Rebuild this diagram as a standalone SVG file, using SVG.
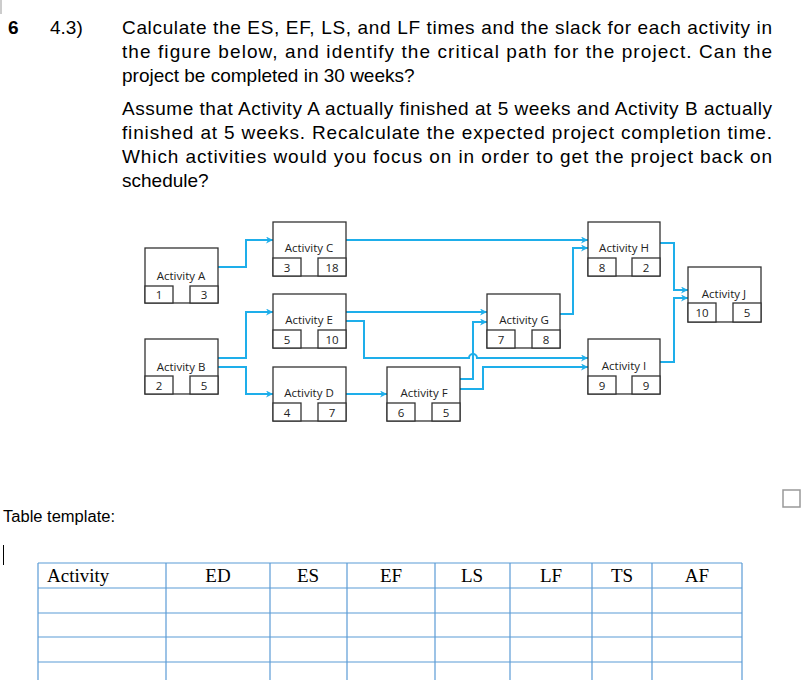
<svg xmlns="http://www.w3.org/2000/svg" width="811" height="680" viewBox="0 0 811 680">
<style>
.q{font-family:"Liberation Sans",Arial,sans-serif;font-size:19px;fill:#000}
.n rect,.n line{fill:#fff;stroke:#333;stroke-width:1.3}
.n text{font-family:"Open Sans","DejaVu Sans",sans-serif;font-size:11.5px;fill:#222}
.c path{fill:none;stroke:#1eaeea;stroke-width:2}
.t line{stroke:#5b9bd5;stroke-width:1.2}
.t text{font-family:"Liberation Serif","Times New Roman",serif;font-size:19px;fill:#000}
</style>
<defs><marker id="ar" viewBox="0 0 10 10" refX="10" refY="5" markerWidth="8" markerHeight="7" orient="auto" markerUnits="userSpaceOnUse"><path d="M0,0 L10,5 L0,10 L3,5 z" fill="#1eaeea"/></marker></defs>
<rect width="811" height="680" fill="#fff"/>
<line x1="1" y1="0" x2="1" y2="14" stroke="#999"/>
<text class="q" x="8" y="34" font-weight="bold">6</text>
<text class="q" x="50" y="34">4.3)</text>
<text class="q" x="122" y="34" textLength="650" lengthAdjust="spacing">Calculate the ES, EF, LS, and LF times and the slack for each activity in</text>
<text class="q" x="122" y="58" textLength="650" lengthAdjust="spacing">the figure below, and identify the critical path for the project. Can the</text>
<text class="q" x="122" y="82">project be completed in 30 weeks?</text>
<text class="q" x="122" y="115" textLength="650" lengthAdjust="spacing">Assume that Activity A actually finished at 5 weeks and Activity B actually</text>
<text class="q" x="122" y="139" textLength="650" lengthAdjust="spacing">finished at 5 weeks. Recalculate the expected project completion time.</text>
<text class="q" x="122" y="163" textLength="650" lengthAdjust="spacing">Which activities would you focus on in order to get the project back on</text>
<text class="q" x="122" y="187">schedule?</text>
<g class="c" id="connectors">
<path d="M218,267 H246 V240 H273" marker-end="url(#ar)"/>
<path d="M346,240 H588" marker-end="url(#ar)"/>
<path d="M218,358 H246 V312 H273" marker-end="url(#ar)"/>
<path d="M218,367 H246 V394 H273" marker-end="url(#ar)"/>
<path d="M346,312 H487" marker-end="url(#ar)"/>
<path d="M346,321 H364 V358 H469 A4,4 0 0 1 477,358 H588" marker-end="url(#ar)"/>
<path d="M346,394 H387" marker-end="url(#ar)"/>
<path d="M460,379 H473 V322 H487" marker-end="url(#ar)"/>
<path d="M460,389 H483 V367 H588" marker-end="url(#ar)"/>
<path d="M560,314 H573 V248 H588" marker-end="url(#ar)"/>
<path d="M660,243 H674 V290 H688" marker-end="url(#ar)"/>
<path d="M660,362 H674 V298 H688" marker-end="url(#ar)"/>
</g>
<g class="n" id="nodeA"><rect x="145" y="248" width="73" height="55"/><rect x="145" y="286" width="28" height="17"/><rect x="190" y="286" width="28" height="17"/><text x="181" y="280" text-anchor="middle">Activity A</text><text x="159" y="299" text-anchor="middle">1</text><text x="204" y="299" text-anchor="middle">3</text></g>
<g class="n" id="nodeB"><rect x="145" y="339" width="73" height="55"/><rect x="145" y="376" width="28" height="18"/><rect x="190" y="376" width="28" height="18"/><text x="181" y="371" text-anchor="middle">Activity B</text><text x="159" y="390" text-anchor="middle">2</text><text x="204" y="390" text-anchor="middle">5</text></g>
<g class="n" id="nodeC"><rect x="273" y="222" width="73" height="54"/><rect x="273" y="258" width="28" height="18"/><rect x="318" y="258" width="28" height="18"/><text x="309" y="252" text-anchor="middle">Activity C</text><text x="287" y="272" text-anchor="middle">3</text><text x="332" y="272" text-anchor="middle">18</text></g>
<g class="n" id="nodeE"><rect x="273" y="294" width="73" height="54"/><rect x="273" y="330" width="28" height="18"/><rect x="318" y="330" width="28" height="18"/><text x="309" y="324" text-anchor="middle">Activity E</text><text x="287" y="344" text-anchor="middle">5</text><text x="332" y="344" text-anchor="middle">10</text></g>
<g class="n" id="nodeD"><rect x="273" y="367" width="73" height="54"/><rect x="273" y="403" width="28" height="18"/><rect x="318" y="403" width="28" height="18"/><text x="309" y="397" text-anchor="middle">Activity D</text><text x="287" y="417" text-anchor="middle">4</text><text x="332" y="417" text-anchor="middle">7</text></g>
<g class="n" id="nodeF"><rect x="387" y="367" width="73" height="54"/><rect x="387" y="403" width="28" height="18"/><rect x="432" y="403" width="28" height="18"/><text x="424" y="397" text-anchor="middle">Activity F</text><text x="401" y="417" text-anchor="middle">6</text><text x="446" y="417" text-anchor="middle">5</text></g>
<g class="n" id="nodeG"><rect x="487" y="294" width="73" height="54"/><rect x="487" y="330" width="28" height="18"/><rect x="532" y="330" width="28" height="18"/><text x="524" y="324" text-anchor="middle">Activity G</text><text x="501" y="344" text-anchor="middle">7</text><text x="546" y="344" text-anchor="middle">8</text></g>
<g class="n" id="nodeH"><rect x="588" y="222" width="72" height="54"/><rect x="588" y="258" width="28" height="18"/><rect x="632" y="258" width="28" height="18"/><text x="624" y="252" text-anchor="middle">Activity H</text><text x="602" y="272" text-anchor="middle">8</text><text x="646" y="272" text-anchor="middle">2</text></g>
<g class="n" id="nodeI"><rect x="588" y="339" width="72" height="55"/><rect x="588" y="376" width="28" height="18"/><rect x="632" y="376" width="28" height="18"/><text x="624" y="370" text-anchor="middle">Activity I</text><text x="602" y="390" text-anchor="middle">9</text><text x="646" y="390" text-anchor="middle">9</text></g>
<g class="n" id="nodeJ"><rect x="688" y="267" width="73" height="55"/><rect x="688" y="303" width="28" height="19"/><rect x="733" y="303" width="28" height="19"/><text x="724" y="298" text-anchor="middle">Activity J</text><text x="702" y="317" text-anchor="middle">10</text><text x="747" y="317" text-anchor="middle">5</text></g>
<rect x="783" y="490" width="17" height="17" fill="#fff" stroke="#999" stroke-width="1.5"/>
<text x="3" y="522" font-family="'Liberation Sans',sans-serif" font-size="16" fill="#000" textLength="112" lengthAdjust="spacingAndGlyphs">Table template:</text>
<line x1="3.5" y1="545" x2="3.5" y2="565" stroke="#000"/>
<g class="t" id="table">
<line x1="38" y1="563" x2="742" y2="563"/><line x1="38" y1="588" x2="742" y2="588"/><line x1="38" y1="613" x2="742" y2="613"/><line x1="38" y1="637" x2="742" y2="637"/><line x1="38" y1="662" x2="742" y2="662"/>
<line x1="38" y1="563" x2="38" y2="680"/><line x1="166" y1="563" x2="166" y2="680"/><line x1="270" y1="563" x2="270" y2="680"/><line x1="347" y1="563" x2="347" y2="680"/><line x1="435" y1="563" x2="435" y2="680"/><line x1="510" y1="563" x2="510" y2="680"/><line x1="592" y1="563" x2="592" y2="680"/><line x1="652" y1="563" x2="652" y2="680"/><line x1="742" y1="563" x2="742" y2="680"/>
<text x="47" y="582">Activity</text>
<text x="218" y="582" text-anchor="middle">ED</text>
<text x="308" y="582" text-anchor="middle">ES</text>
<text x="391" y="582" text-anchor="middle">EF</text>
<text x="472" y="582" text-anchor="middle">LS</text>
<text x="551" y="582" text-anchor="middle">LF</text>
<text x="622" y="582" text-anchor="middle">TS</text>
<text x="697" y="582" text-anchor="middle">AF</text>
</g>
</svg>
